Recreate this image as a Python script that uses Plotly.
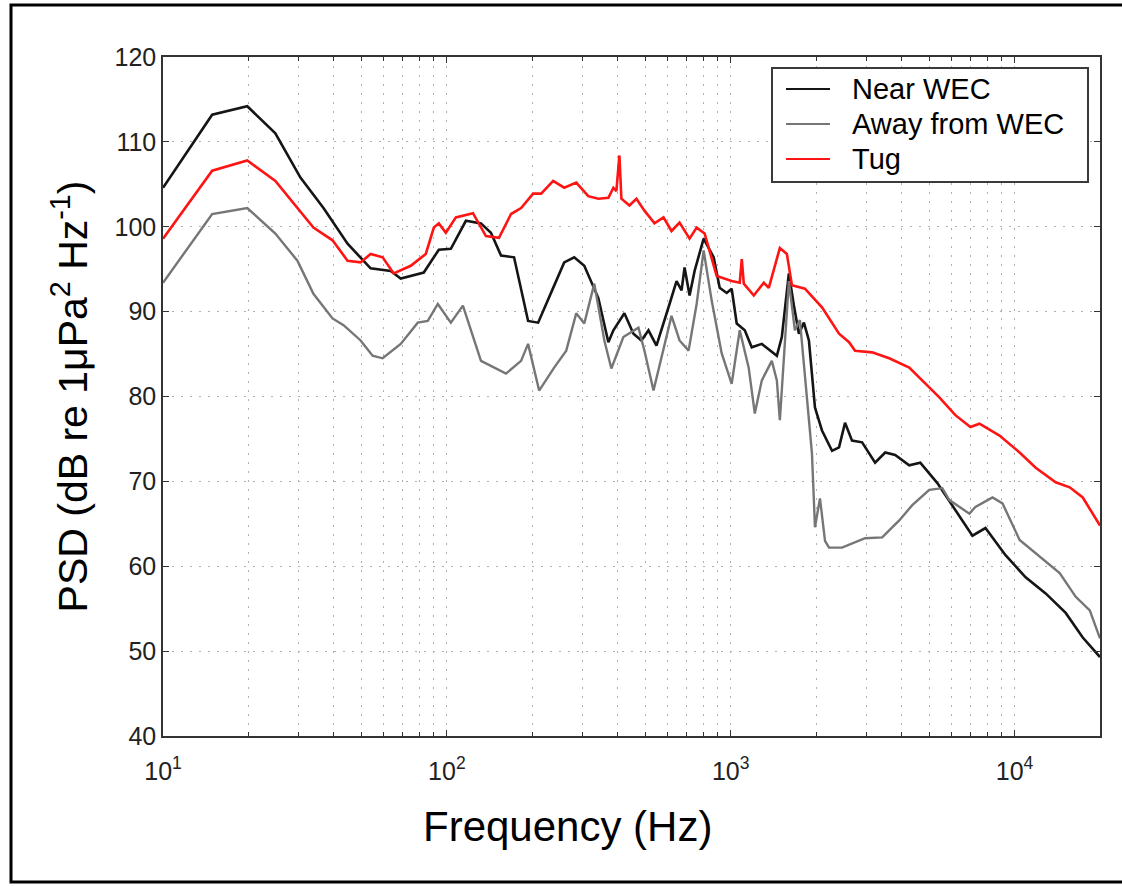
import plotly.graph_objects as go

# ---- data (frequency in Hz, PSD in dB re 1 uPa^2/Hz) ----
near_f = [10, 14.9, 19.81, 24.88, 30.49, 36.76, 44.69, 53.87, 63.41, 68.78, 82.93, 93.69, 103.3,
          116.7, 131.9, 143.0, 155.2, 172.5, 193.3, 209.7, 236.9, 259.1, 281.0, 304.9, 341.7,
          370.7, 386.1, 422.1, 454.3, 484.8, 513.2, 547.7, 608.9, 644.5, 671.3, 687.9, 716.4,
          746.2, 802.9, 870.9, 914.4, 968.0, 1008, 1050, 1121, 1186, 1287, 1454, 1514, 1603,
          1670, 1739, 1811, 1886, 1981, 2097, 2275, 2408, 2528, 2676, 2904, 3227, 3501, 3797,
          4256, 4654, 5346, 6290, 7107, 7898, 9295, 10940, 12870, 15140, 17390, 20000]
near_v = [104.6, 113.2, 114.2, 111.0, 105.8, 102.2, 98.0, 95.1, 94.8, 93.9, 94.6, 97.3, 97.4,
          100.7, 100.4, 99.3, 96.6, 96.4, 88.9, 88.7, 92.8, 95.8, 96.4, 95.4, 91.6,
          86.4, 87.8, 89.8, 87.4, 86.6, 87.8, 86.0, 90.9, 93.6, 92.5, 95.2, 91.9,
          94.8, 98.6, 96.4, 92.8, 92.2, 92.7, 88.6, 87.8, 85.8, 86.2, 84.8, 87.0, 94.5,
          90.7, 87.4, 88.7, 86.6, 78.7, 76.0, 73.6, 74.0, 76.9, 74.8, 74.6, 72.2, 73.4, 73.1,
          71.9, 72.2, 69.8, 66.2, 63.6, 64.5, 61.3, 58.7, 56.8, 54.5, 51.6, 49.3]

away_f = [10, 14.9, 19.81, 24.88, 29.75, 33.88, 39.56, 43.26, 49.68, 54.76, 59.40, 68.78, 78.98,
          85.65, 92.94, 103.3, 113.9, 131.9, 161.6, 182.6, 193.3, 211.4, 238.8, 263.4, 285.6,
          304.9, 330.7, 358.8, 379.8, 418.7, 473.1, 496.8, 534.6, 579.9, 618.7, 660.4, 710.6,
          758.6, 802.9, 857.0, 929.3, 1008, 1076, 1157, 1216, 1287, 1396, 1454, 1490, 1603,
          1683, 1753, 1886, 1933, 1981, 2063, 2149, 2220, 2467, 2975, 3418, 3924, 4362, 5007,
          5567, 5893, 6934, 7280, 8362, 9071, 10420, 11870, 14420, 16430, 18410, 20000]
away_v = [93.4, 101.5, 102.2, 99.2, 96.0, 92.1, 89.2, 88.4, 86.6, 84.8, 84.5, 86.2, 88.7,
          88.9, 90.9, 88.7, 90.7, 84.2, 82.7, 84.2, 86.2, 80.7, 83.4, 85.4, 89.8,
          88.6, 93.3, 86.6, 83.3, 87.0, 88.1, 85.4, 80.7, 85.8, 89.5, 86.6, 85.4,
          90.9, 97.2, 91.3, 85.1, 81.5, 87.8, 83.4, 78.0, 81.9, 84.2, 81.9, 77.2, 93.6,
          87.8, 89.0, 77.2, 73.3, 64.6, 68.0, 63.0, 62.2, 62.2, 63.3, 63.4, 65.4, 67.2, 69.0,
          69.2, 67.8, 66.2, 67.0, 68.1, 67.4, 63.1, 61.5, 59.2, 56.4, 54.8, 51.5]

tug_f = [10, 14.9, 19.81, 24.88, 33.88, 39.56, 44.69, 49.68, 53.87, 59.40, 64.98, 74.62, 84.3,
         89.99, 93.69, 99.2, 107.6, 123.6, 137.3, 152.6, 168.3, 182.6, 201.4, 214.9, 236.9,
         259.1, 285.6, 314.9, 341.7, 370.7, 386.1, 395.6, 405.4, 412.0, 439.7, 465.5, 496.8,
         538.9, 579.9, 618.7, 660.4, 716.4, 758.6, 809.4, 892.5, 1008, 1076, 1094, 1112, 1206,
         1308, 1362, 1490, 1577, 1643, 1826, 2097, 2408, 2612, 2743, 3150, 3617, 4256, 4730,
         5433, 6187, 6991, 7521, 8851, 10420, 11870, 13960, 15640, 17390, 20000]
tug_v = [98.6, 106.6, 107.8, 105.4, 99.9, 98.4, 96.0, 95.8, 96.8, 96.4, 94.5, 95.4, 96.8,
         99.9, 100.4, 99.3, 101.1, 101.6, 98.9, 98.7, 101.5, 102.2, 103.9, 103.9, 105.4,
         104.6, 105.2, 103.6, 103.3, 103.4, 104.6, 104.2, 108.4, 103.3, 102.5, 103.3, 101.9,
         100.4, 101.1, 99.5, 100.5, 98.6, 99.9, 99.2, 94.2, 93.6, 93.4, 96.2, 93.3, 91.9,
         93.4, 92.8, 97.5, 96.8, 93.1, 92.7, 90.5, 87.4, 86.4, 85.4, 85.2, 84.5, 83.4, 81.9,
         79.9, 77.8, 76.4, 76.8, 75.4, 73.4, 71.6, 69.9, 69.3, 68.1, 64.8]

series_names = ["Near WEC", "Away from WEC", "Tug"]
y_ticks = [40, 50, 60, 70, 80, 90, 100, 110, 120]
x_ticks = [10, 100, 1000, 10000]
x_tick_text = ["10<sup>1</sup>", "10<sup>2</sup>", "10<sup>3</sup>", "10<sup>4</sup>"]
x_minor = [m * d for d in (10, 100, 1000) for m in range(2, 10)] + [20000]

FONT = "Liberation Sans, Arial, Helvetica, sans-serif"
styles = [dict(color="#151515", width=2.6),
          dict(color="#767676", width=2.4),
          dict(color="#ff1414", width=2.6)]

fig = go.Figure()
for name, fx, fy, st in zip(series_names, [near_f, away_f, tug_f], [near_v, away_v, tug_v], styles):
    fig.add_trace(go.Scatter(x=fx, y=fy, mode="lines", name=name, line=st, showlegend=False))

W, H = 1122, 886
L, R, T, B = 163, 22, 57, 150

def px_x(p):
    return (p - L) / (W - L - R)

def px_y(p):
    return (H - B - p) / (H - T - B)

GRID = dict(showgrid=True, gridcolor="#b0b0b0", griddash="2px,7px", gridwidth=1)

fig.update_layout(
    width=W, height=H,
    margin=dict(l=L, r=R, t=T, b=B),
    paper_bgcolor="white", plot_bgcolor="white",
    font=dict(family=FONT, color="#222222"),
    xaxis=dict(
        type="log", range=[1, 4.30103],
        tickmode="array", tickvals=x_ticks, ticktext=x_tick_text,
        tickfont=dict(size=25, color="#222222"), ticklabelstandoff=12,
        ticks="inside", ticklen=6, tickcolor="#333333",
        showline=True, linecolor="#333333", linewidth=1.5, mirror="allticks",
        minor=dict(tickmode="array", tickvals=x_minor, ticks="inside", ticklen=4,
                   tickcolor="#333333", **GRID),
        zeroline=False,
        **GRID,
    ),
    yaxis=dict(
        range=[40, 120], tickmode="array", tickvals=y_ticks,
        tickfont=dict(size=25, color="#222222"), ticklabelstandoff=0,
        ticks="inside", ticklen=6, tickcolor="#333333",
        showline=True, linecolor="#333333", linewidth=1.5, mirror="allticks",
        zeroline=False,
        title=dict(text="PSD (dB re 1μPa<sup>2</sup> Hz<sup>-1</sup>)",
                   font=dict(size=41, color="black"), standoff=14),
        **GRID,
    ),
)

# x-axis title (sits left of the plot centre in the reference)
fig.add_annotation(text="Frequency (Hz)", xref="paper", yref="paper",
                   x=px_x(567), y=px_y(826), xanchor="center", yanchor="middle",
                   showarrow=False, font=dict(size=42, color="black", family=FONT))

# legend box drawn to match the reference's proportions
fig.add_shape(type="rect", xref="paper", yref="paper",
              x0=px_x(772), x1=px_x(1088), y0=px_y(182), y1=px_y(68),
              line=dict(color="#3a3a3a", width=2), fillcolor="white", layer="above")
legend_rows = [89, 124, 159]
for name, st, ry in zip(series_names, styles, legend_rows):
    fig.add_shape(type="line", xref="paper", yref="paper",
                  x0=px_x(786), x1=px_x(830), y0=px_y(ry), y1=px_y(ry),
                  line=dict(color=st["color"], width=2.2), layer="above")
    fig.add_annotation(text=name, xref="paper", yref="paper",
                       x=px_x(850), y=px_y(ry), xanchor="left", yanchor="middle",
                       showarrow=False, font=dict(size=29, color="black", family=FONT))

# outer black frame of the figure
fig.add_shape(type="rect", xref="paper", yref="paper",
              x0=px_x(11), x1=px_x(1135), y0=px_y(882), y1=px_y(5),
              line=dict(color="black", width=3), fillcolor="rgba(0,0,0,0)", layer="above")

fig.write_html("out.html", config={"displayModeBar": False},
               post_script="document.body.style.margin='0px';")
